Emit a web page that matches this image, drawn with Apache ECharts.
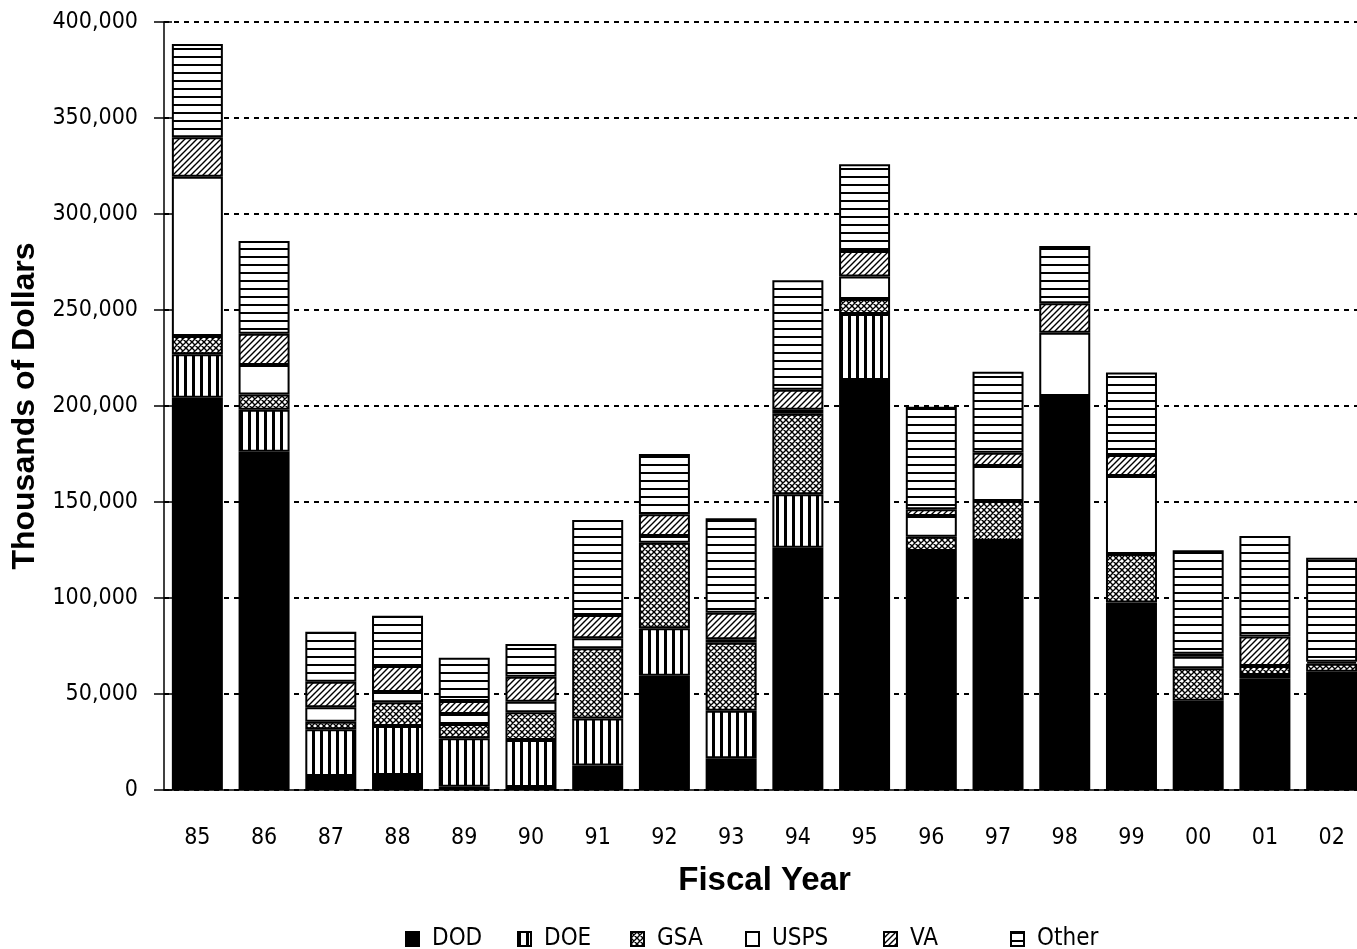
<!DOCTYPE html>
<html>
<head>
<meta charset="utf-8">
<title>Thousands of Dollars by Fiscal Year</title>
<script src="https://cdn.jsdelivr.net/npm/echarts@6/dist/echarts.min.js"></script>
<style>
  html, body { margin: 0; padding: 0; background: #fff; }
  #chart { width: 1357px; height: 949px; }
</style>
</head>
<body>
<div id="chart"></div>
<script>
// Fiscal years on the category axis
const years = ['85', '86', '87', '88', '89', '90', '91', '92', '93', '94', '95', '96', '97', '98', '99', '00', '01', '02'];

// Spending by agency, thousands of dollars
const DOD   = [204300, 176200, 7300, 7800, 1700, 1500, 12700, 59500, 16500, 126200, 213500, 124500, 129700, 205200, 97600, 46500, 58200, 61600];
const DOE   = [22700, 21800, 24300, 25500, 25200, 24500, 24600, 24700, 24800, 27800, 34400, 0, 0, 0, 0, 0, 1700, 0];
const GSA   = [9500, 8000, 4000, 12400, 7500, 14500, 36500, 44600, 35400, 42000, 7800, 7400, 20800, 0, 25300, 16900, 4700, 4200];
const USPS  = [82900, 15300, 7500, 5300, 5200, 5500, 5200, 3500, 1800, 2000, 11700, 10800, 18300, 33000, 40600, 6000, 0, 0];
const VA    = [20600, 16300, 13300, 13600, 6800, 13000, 12100, 11300, 13800, 10500, 13300, 3500, 6900, 15300, 11000, 1500, 15300, 1000];
const Other = [48500, 48300, 26000, 26200, 22500, 17000, 49500, 31400, 49200, 57000, 45200, 53400, 42200, 29800, 43000, 54000, 52400, 54200];

const agencyNames = ['DOD', 'DOE', 'GSA', 'USPS', 'VA', 'Other'];
const agencyValues = [DOD, DOE, GSA, USPS, VA, Other];

// Y axis range and step
const yMin = 0, yMax = 400000, yStep = 50000;

const NARROW = "'Liberation Sans Narrow', 'DejaVu Sans Condensed', 'Arial Narrow', sans-serif";
const BOLD = "'Liberation Sans', Arial, sans-serif";

// Small repeating fill tiles for the monochrome hatches
function tile(w, h, draw) {
  const c = document.createElement('canvas');
  c.width = w; c.height = h;
  const g = c.getContext('2d');
  g.fillStyle = '#fff';
  g.fillRect(0, 0, w, h);
  g.fillStyle = '#000';
  g.strokeStyle = '#000';
  draw(g, w, h);
  return { image: c, repeat: 'repeat' };
}

const fills = {
  DOD: '#000',
  DOE: tile(8, 8, g => { g.fillRect(0, 0, 3, 8); }),
  GSA: tile(6, 6, (g, w, h) => {
    g.lineWidth = 1.4;
    g.beginPath();
    for (let k = -2; k <= 2; k++) {
      g.moveTo(k * w, 0); g.lineTo(k * w + w, h);
      g.moveTo(k * w, h); g.lineTo(k * w + w, 0);
    }
    g.stroke();
  }),
  USPS: '#fff',
  VA: tile(6, 6, (g, w, h) => {
    g.lineWidth = 1.4;
    g.beginPath();
    g.moveTo(-1, 1); g.lineTo(1, -1);
    g.moveTo(0, h); g.lineTo(w, 0);
    g.moveTo(w - 1, h + 1); g.lineTo(w + 1, h - 1);
    g.stroke();
  }),
  Other: tile(8, 8, g => { g.fillRect(0, 0, 8, 2); })
};

const series = agencyNames.map((name, i) => ({
  name: name,
  type: 'bar',
  stack: 'total',
  xAxisIndex: 0,
  yAxisIndex: 0,
  barWidth: 51,
  data: agencyValues[i].map(v => (v === 0 ? null : v)),
  itemStyle: {
    color: fills[name],
    borderColor: '#000',
    borderWidth: 2
  },
  emphasis: { disabled: true },
  animation: false
}));

// One legend entry per agency, placed along the bottom
const legendLeft = [405, 517, 630, 745, 883, 1010];
const legends = agencyNames.map((name, i) => ({
  data: [name],
  top: 927,
  left: legendLeft[i],
  padding: 0,
  icon: 'rect',
  itemWidth: 13,
  itemHeight: 14,
  selectedMode: false,
  textStyle: { fontFamily: NARROW, fontSize: 24, color: '#000', padding: [0, 0, 0, 8] }
}));

const chart = echarts.init(document.getElementById('chart'), null, { renderer: 'canvas' });

chart.setOption({
  backgroundColor: '#fff',
  animation: false,
  grid: { left: 164, top: 22, width: 1201, height: 768, containLabel: false, outerBoundsMode: 'none' },
  legend: legends,
  xAxis: [
    {
      type: 'category',
      data: years,
      name: 'Fiscal Year',
      nameLocation: 'middle',
      nameGap: 74,
      nameTextStyle: { fontFamily: BOLD, fontWeight: 'bold', fontSize: 33, color: '#000' },
      axisLine: { lineStyle: { color: '#000', width: 1.5 } },
      axisTick: { length: 10, lineStyle: { color: '#000', width: 1.5 } },
      axisLabel: { fontFamily: NARROW, fontSize: 23, color: '#000', margin: 37 }
    },
    {
      type: 'category',
      data: years,
      position: 'bottom',
      axisLine: { show: false },
      axisTick: { inside: true, length: 9, lineStyle: { color: '#000', width: 1.5 } },
      axisLabel: { show: false }
    }
  ],
  yAxis: [
    {
      type: 'value',
      min: yMin,
      max: yMax,
      interval: yStep,
      position: 'left',
      name: 'Thousands of Dollars',
      nameLocation: 'middle',
      nameGap: 118,
      nameTextStyle: { fontFamily: BOLD, fontWeight: 'bold', fontSize: 32, color: '#000' },
      axisLine: { show: true, lineStyle: { color: '#000', width: 1.5 } },
      axisTick: { show: true, length: 10, lineStyle: { color: '#000', width: 1.5 } },
      axisLabel: {
        fontFamily: NARROW, fontSize: 23, color: '#000', margin: 26,
        formatter: v => v.toLocaleString('en-US')
      },
      splitLine: { show: true, lineStyle: { color: '#000', width: 2, type: [5, 5] } }
    },
    {
      type: 'value',
      min: yMin,
      max: yMax,
      interval: yStep,
      position: 'left',
      axisLine: { show: false },
      axisTick: { show: true, inside: true, length: 8, lineStyle: { color: '#000', width: 1.5 } },
      axisLabel: { show: false },
      splitLine: { show: false }
    }
  ],
  series: series
});
</script>
</body>
</html>
